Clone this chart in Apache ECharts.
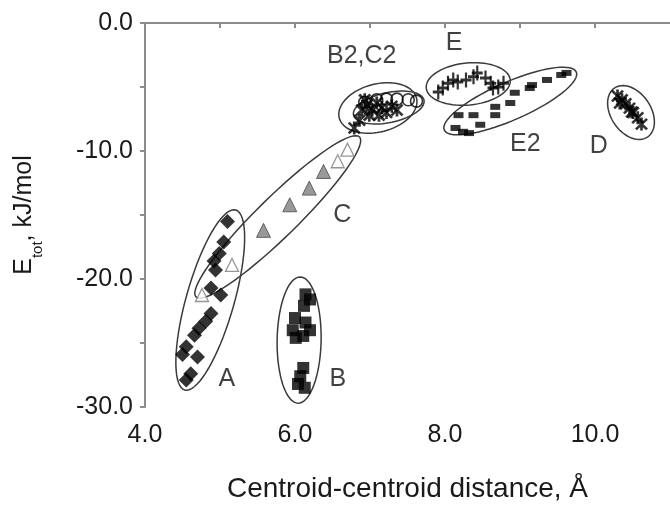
<!DOCTYPE html>
<html>
<head>
<meta charset="utf-8">
<script src="https://cdn.jsdelivr.net/npm/echarts@6/dist/echarts.min.js"></script>
<style>
    html, body { margin: 0; padding: 0; background: #fff; }
    #chart { width: 670px; height: 519px; }
</style>
</head>
<body>
<div id="chart"></div>
<script>
// group A, black diamonds
var groupA = [
    [5.10, -15.5], [5.05, -17.1], [4.99, -18.0], [4.92, -18.6], [4.94, -19.3],
    [4.88, -20.7], [5.01, -21.25], [4.88, -22.7], [4.81, -23.3], [4.72, -23.85],
    [4.66, -24.4], [4.55, -25.3], [4.50, -25.9], [4.70, -26.1], [4.61, -27.4],
    [4.55, -27.9]
];
// group B, black squares
var groupB = [
    [6.14, -21.2], [6.20, -21.6], [6.12, -22.1], [6.00, -23.05], [6.14, -23.4],
    [5.97, -24.0], [6.11, -24.45], [6.20, -24.0], [6.01, -24.6], [6.11, -26.95],
    [6.07, -27.6], [6.04, -28.2], [6.13, -28.5]
];
// group C, grey triangles
var groupC = [[5.58, -16.2], [5.93, -14.2], [6.19, -12.9], [6.38, -11.6]];
// open triangles
var groupCOpen = [[6.57, -10.8], [6.70, -9.9], [5.16, -18.9], [4.76, -21.25]];
// group B2, asterisks
var groupB2 = [
    [6.79, -8.2], [6.86, -7.6], [6.89, -6.8], [6.96, -6.4], [7.03, -6.8],
    [7.09, -6.25], [7.16, -6.6], [7.22, -7.0], [7.29, -6.5], [7.36, -6.8],
    [6.99, -7.2], [6.93, -6.0], [7.12, -7.2]
];
// group C2, open circles
var groupC2 = [[6.93, -6.2], [7.09, -6.0], [7.22, -5.95], [7.36, -5.95], [7.51, -6.0], [7.62, -6.1]];
// group E, plus signs
var groupE = [
    [7.91, -5.4], [7.97, -5.08], [8.04, -4.7], [8.11, -4.45], [8.17, -4.6],
    [8.28, -4.45], [8.38, -4.2], [8.43, -3.9], [8.54, -4.3], [8.61, -4.7],
    [8.64, -5.08], [8.71, -5.0], [8.78, -4.7]
];
// group E2, dashes
var groupE2 = [
    [8.18, -7.2], [8.38, -7.2], [8.67, -6.55], [8.67, -7.2], [8.87, -6.25],
    [8.93, -5.45], [9.13, -5.08], [9.16, -4.85], [9.36, -4.45], [9.55, -4.06],
    [9.62, -3.9], [8.47, -7.95], [8.14, -8.2], [8.24, -8.5], [8.32, -8.6]
];
// group D, asterisks
var groupD = [
    [10.30, -5.7], [10.36, -6.0], [10.41, -6.3], [10.46, -6.65], [10.51, -7.0],
    [10.57, -7.4], [10.62, -7.9], [10.33, -6.25], [10.49, -6.95]
];

// enclosing ellipses: major axis ends [x1, y1, x2, y2], half width in px
var ellipses = [
    [4.53, -28.67, 5.21, -14.61, 24],
    [4.68, -21.4, 6.86, -8.9, 20],
    [6.07, -19.84, 6.04, -29.7, 22],
    [6.59, -7.42, 7.62, -5.86, 24],
    [6.78, -7.19, 7.72, -6.02, 15],
    [7.75, -5.08, 8.87, -4.45, 21],
    [7.99, -8.36, 9.75, -3.83, 19],
    [10.26, -5.08, 10.70, -8.91, 20]
];

var groupLabels = [
    ['A', 5.09, -27.8], ['B', 6.57, -27.8], ['C', 6.63, -15.0],
    ['B2,C2', 6.89, -2.6], ['E', 8.12, -1.56], ['E2', 9.07, -9.5],
    ['D', 10.05, -9.6]
];

var asterisk = 'path://M4,0H6V10H4Z M1.6,0.2L9.8,8.4L8.4,9.8L0.2,1.6Z M8.4,0.2L9.8,1.6L1.6,9.8L0.2,8.4Z';
var plus = 'path://M4,0H6V10H4Z M0,4H10V6H0Z';

var font = 'Liberation Sans, Arial, sans-serif';
var axisGrey = '#8c8c8c';

function renderEllipse(params, api) {
    var p1 = api.coord([api.value(0), api.value(1)]);
    var p2 = api.coord([api.value(2), api.value(3)]);
    var w = api.value(4);
    var cx = (p1[0] + p2[0]) / 2, cy = (p1[1] + p2[1]) / 2;
    var dx = p2[0] - p1[0], dy = p2[1] - p1[1];
    var a = Math.sqrt(dx * dx + dy * dy) / 2;
    var ang = Math.atan2(dy, dx);
    var pts = [];
    for (var i = 0; i < 72; i++) {
        var t = i / 72 * Math.PI * 2;
        var ex = a * Math.cos(t), ey = w * Math.sin(t);
        pts.push([cx + ex * Math.cos(ang) - ey * Math.sin(ang),
                  cy + ex * Math.sin(ang) + ey * Math.cos(ang)]);
    }
    return {
        type: 'polygon',
        shape: { points: pts },
        style: { fill: 'none', stroke: '#3a3a3a', lineWidth: 1.5 }
    };
}

var chart = echarts.init(document.getElementById('chart'));

chart.setOption({
    animation: false,
    backgroundColor: '#fff',
    grid: { left: 145, right: -7, top: 23, bottom: 112 },
    xAxis: {
        type: 'value',
        min: 4,
        max: 11,
        interval: 1,
        name: 'Centroid-centroid distance, Å',
        nameLocation: 'middle',
        nameGap: 68,
        nameTextStyle: { fontFamily: font, fontSize: 28, color: '#1a1a1a' },
        axisLine: { lineStyle: { color: axisGrey, width: 2 } },
        axisTick: { length: 5, lineStyle: { color: axisGrey, width: 2 } },
        axisLabel: {
            fontFamily: font, fontSize: 25, color: '#1a1a1a', margin: 16,
            showMaxLabel: false,
            formatter: function (v) { return v % 2 === 0 ? v.toFixed(1) : ''; }
        },
        splitLine: { show: false }
    },
    yAxis: {
        type: 'value',
        min: -30,
        max: 0,
        interval: 5,
        name: '{e|E}{s|tot}{e|, kJ/mol}',
        nameLocation: 'middle',
        nameGap: 106,
        nameTextStyle: {
            fontFamily: font, color: '#1a1a1a',
            rich: {
                e: { fontFamily: font, fontSize: 25, color: '#1a1a1a', lineHeight: 30 },
                s: { fontFamily: font, fontSize: 15, color: '#1a1a1a', verticalAlign: 'bottom', lineHeight: 30, padding: [0, 0, -6, 0] }
            }
        },
        axisLine: { lineStyle: { color: axisGrey, width: 2 } },
        axisTick: { length: 5, lineStyle: { color: axisGrey, width: 2 } },
        axisLabel: {
            fontFamily: font, fontSize: 25, color: '#1a1a1a', margin: 12,
            formatter: function (v) { return v % 10 === 0 ? v.toFixed(1) : ''; }
        },
        splitLine: { show: false }
    },
    series: [
        {
            type: 'custom',
            renderItem: renderEllipse,
            data: ellipses,
            silent: true,
            z: 1
        },
        {
            type: 'scatter', data: groupCOpen, symbol: 'triangle', symbolSize: 13,
            itemStyle: { color: '#fff', borderColor: '#7a7a7a', borderWidth: 1.3 }, z: 3
        },
        {
            type: 'scatter', data: groupA, symbol: 'diamond', symbolSize: 15,
            itemStyle: { color: '#000' }, z: 4
        },
        {
            type: 'scatter', data: groupB, symbol: 'rect', symbolSize: 12,
            itemStyle: { color: '#000' }, z: 4
        },
        {
            type: 'scatter', data: groupC, symbol: 'triangle', symbolSize: 14,
            itemStyle: { color: '#7f7f7f', borderColor: '#4a4a4a', borderWidth: 1 }, z: 4
        },
        {
            type: 'scatter', data: groupC2, symbol: 'circle', symbolSize: 12,
            itemStyle: { color: 'rgba(255,255,255,0)', borderColor: '#000', borderWidth: 1.6 }, z: 3
        },
        {
            type: 'scatter', data: groupB2, symbol: asterisk, symbolSize: 13,
            itemStyle: { color: '#000' }, z: 4
        },
        {
            type: 'scatter', data: groupE, symbol: plus, symbolSize: [11, 15],
            itemStyle: { color: '#000' }, z: 4
        },
        {
            type: 'scatter', data: groupE2, symbol: 'rect', symbolSize: [10, 6],
            itemStyle: { color: '#000' }, z: 4
        },
        {
            type: 'scatter', data: groupD, symbol: asterisk, symbolSize: 13,
            itemStyle: { color: '#000' }, z: 4
        },
        {
            type: 'scatter',
            data: groupLabels.map(function (d) { return { name: d[0], value: [d[1], d[2]] }; }),
            symbolSize: 0,
            silent: true,
            label: {
                show: true, position: 'inside', formatter: '{b}',
                fontFamily: font, fontSize: 25, color: '#111'
            },
            z: 5
        }
    ]
});
</script>
</body>
</html>
